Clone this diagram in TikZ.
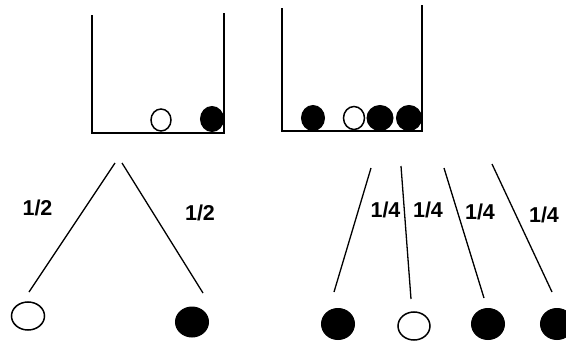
\documentclass[tikz,border=0pt]{standalone}
\usepackage{fontspec}
\setmainfont{Liberation Sans}
\usetikzlibrary{shapes.geometric}
\begin{document}
\begin{tikzpicture}[x=1pt,y=-1pt,
  cup/.style={line width=2pt},
  branch/.style={line width=1.3pt},
  wball/.style={ellipse,draw,line width=1.5pt,fill=white,inner sep=0pt},
  bball/.style={ellipse,draw,line width=1pt,fill=black,inner sep=0pt},
  prob/.style={font=\bfseries\fontsize{21.5}{21.5}\selectfont,inner sep=0pt,anchor=base}]
\useasboundingbox (0,0) rectangle (566,343);
% left cup
\draw[cup] (92,15) -- (92,133) -- (224,133) -- (224,13);
\node[wball,minimum width=20pt,minimum height=22pt] (lw) at (161,120) {};
\node[bball,minimum width=23pt,minimum height=25pt] (lb) at (212,119) {};
% right cup
\draw[cup] (282,8) -- (282,131) -- (422,131) -- (422,5);
\node[bball,minimum width=23pt,minimum height=25pt] (rb1) at (313,118) {};
\node[wball,minimum width=21pt,minimum height=23pt] (rw) at (354,118) {};
\node[bball,minimum width=26pt,minimum height=25pt] (rb2) at (380,118) {};
\node[bball,minimum width=25pt,minimum height=25pt] (rb3) at (409,118) {};
% left tree
\coordinate (lt1) at (115,163);
\coordinate (le1) at (29,292);
\coordinate (lt2) at (122,163);
\coordinate (le2) at (203,293);
\draw[branch] (lt1) -- (le1);
\draw[branch] (lt2) -- (le2);
\node[prob] (p1) at (37.5,215) {1/2};
\node[prob] (p2) at (200,220) {1/2};
\node[wball,minimum width=33pt,minimum height=28pt] (o1) at (28,316) {};
\node[bball,minimum width=33pt,minimum height=30pt] (o2) at (192,322) {};
% right tree
\coordinate (rt1) at (371,168);
\coordinate (re1) at (334,292);
\coordinate (rt2) at (401,166);
\coordinate (re2) at (411,299);
\coordinate (rt3) at (444,168);
\coordinate (re3) at (484,298);
\coordinate (rt4) at (492,164);
\coordinate (re4) at (552,292);
\draw[branch] (rt1) -- (re1);
\draw[branch] (rt2) -- (re2);
\draw[branch] (rt3) -- (re3);
\draw[branch] (rt4) -- (re4);
\node[prob] (q1) at (385.5,217) {1/4};
\node[prob] (q2) at (428,217) {1/4};
\node[prob] (q3) at (480,219) {1/4};
\node[prob] (q4) at (544,222) {1/4};
\node[bball,minimum width=33pt,minimum height=31pt] (s1) at (338,324) {};
\node[wball,minimum width=32pt,minimum height=28pt] (s2) at (414,326) {};
\node[bball,minimum width=33pt,minimum height=31pt] (s3) at (488,324) {};
\node[bball,minimum width=33pt,minimum height=31pt] (s4) at (557,324) {};
\end{tikzpicture}
\end{document}
